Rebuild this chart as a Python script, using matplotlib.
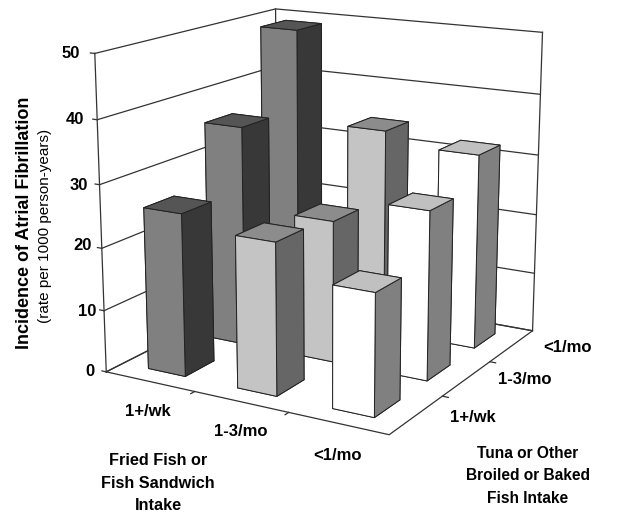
import matplotlib
matplotlib.use("Agg")
import matplotlib.pyplot as plt
import numpy as np

fried_labels = ["1+/wk", "1-3/mo", "<1/mo"]
tuna_labels = ["1+/wk", "1-3/mo", "<1/mo"]
z_ticks = [0, 10, 20, 30, 40, 50]
# rows: fried level; entries: tuna level (front to back)
fried_1wk = [26, 36, 49]
fried_13mo = [24, 23, 34]
fried_lt1 = [19, 27, 32]
values = [fried_1wk, fried_13mo, fried_lt1]

# (top, front, side) colours per fried level
colours = [("#555555", "#808080", "#383838"),
           ("#8c8c8c", "#c4c4c4", "#666666"),
           ("#c0c0c0", "#ffffff", "#808080")]

plt.rcParams['font.family'] = ['Liberation Sans', 'DejaVu Sans']
W, H = 617, 521
fig = plt.figure(figsize=(W/100, H/100), dpi=100, facecolor='white')
ax = fig.add_axes([0.018, 0.102, 1.0, 1.0], projection='3d')
ax.set_axis_off()
ax.computed_zorder = False
ax.set_xlim(0, 3); ax.set_ylim(0, 3); ax.set_zlim(0, 50)
ax.set_box_aspect((318, 325, 320), zoom=1.032)
ax.view_init(elev=15, azim=-60)
ax.set_proj_type('persp', focal_length=0.6)

zmax = 50
lk = dict(color='#333333', lw=0.9, zorder=1)
# floor
ax.plot([0, 3, 3, 0, 0], [0, 0, 3, 3, 0], [0]*5, **lk)
# vertical edges
ax.plot([0, 0], [0, 0], [0, zmax], **lk)
ax.plot([0, 0], [3, 3], [0, zmax], **lk)
ax.plot([3, 3], [3, 3], [0, zmax], **lk)
# wall gridlines
for z in z_ticks:
    ax.plot([0, 0, 3], [0, 3, 3], [z, z, z], **lk)
# floor ticks
for i in range(1, 3):
    ax.plot([i, i], [-0.06, 0], [0, 0], **lk)
    ax.plot([3, 3.06], [i, i], [0, 0], **lk)
for z in z_ticks:
    ax.plot([-0.05, 0], [0, 0], [z, z], **lk)

dx, dy = 0.42, 0.47
z0 = 5
for j in [2, 1, 0]:
    for i in range(3):
        t, f, s = colours[i]
        # bar3d face order: bottom, top, -y, +y, -x, +x
        ax.bar3d(i + (1-dx)/2, j + (1-dy)/2, 0, dx, dy, values[i][j],
                 color=[t, t, f, s, s, s], edgecolor='#222222', linewidth=0.7,
                 shade=False, zorder=z0)
        z0 += 1

def px(x, y):
    return x / W, 1 - y / H

bold = dict(ha='center', va='center', fontweight='bold')
z_label_pos = [(90, 372), (87, 311), (83, 245), (79, 185), (75, 119), (71, 54)]
for z, p in zip(z_ticks, z_label_pos):
    fig.text(*px(*p), str(z), fontsize=12, **bold)
for lab, p in zip(fried_labels, [(148, 412), (241, 432), (337, 455)]):
    fig.text(*px(*p), lab, fontsize=12, **bold)
for lab, p in zip(tuna_labels, [(473, 417), (525, 380), (568, 347)]):
    fig.text(*px(*p), lab, fontsize=12, **bold)

fig.text(*px(25, 223), "Incidence of Atrial Fibrillation", rotation=90, fontsize=13, **bold)
fig.text(*px(45, 226), "(rate per 1000 person-years)", rotation=90, ha='center', va='center', fontsize=11)
fig.text(*px(158, 483), "Fried Fish or\nFish Sandwich\nIntake", fontsize=11.7, linespacing=1.65, **bold)
fig.text(*px(528, 476), "Tuna or Other\nBroiled or Baked\nFish Intake", fontsize=11.2, linespacing=1.65, **bold)
fig.savefig("out.png", dpi=100)
